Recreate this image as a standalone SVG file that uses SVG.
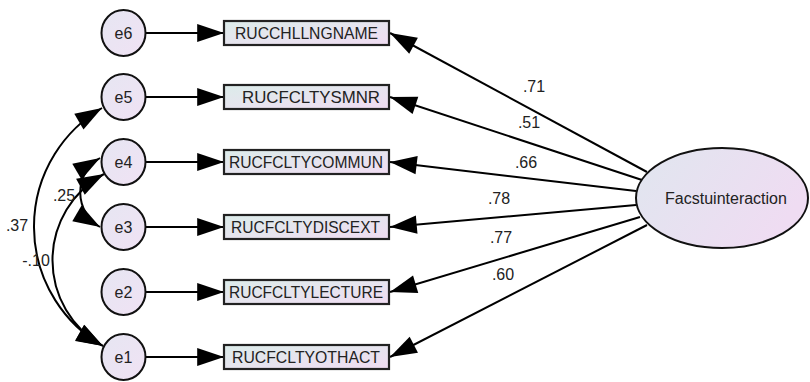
<svg xmlns="http://www.w3.org/2000/svg" width="810" height="382" viewBox="0 0 810 382">
  <defs>
    <linearGradient id="boxFill" x1="0" y1="0" x2="1" y2="1">
      <stop offset="0" stop-color="#dcecea"/>
      <stop offset="1" stop-color="#f0dcf2"/>
    </linearGradient>
    <linearGradient id="errFill" x1="0" y1="0" x2="1" y2="1">
      <stop offset="0" stop-color="#e6e6f2"/>
      <stop offset="1" stop-color="#f0e2f4"/>
    </linearGradient>
    <linearGradient id="latFill" x1="0" y1="0" x2="1" y2="0.4">
      <stop offset="0" stop-color="#e0e6ef"/>
      <stop offset="1" stop-color="#efdcf2"/>
    </linearGradient>
    <marker id="head" markerUnits="userSpaceOnUse" markerWidth="30" markerHeight="20" viewBox="-26 -9 28 18" refX="0" refY="0" orient="auto-start-reverse">
      <path d="M0,0 L-25,-8.5 L-25,8.5 Z" fill="#000"/>
    </marker>
  </defs>
  <style>
    .err { fill: url(#errFill); stroke: #111; stroke-width: 2; }
    .box { fill: url(#boxFill); stroke: #222; stroke-width: 2.2; }
    .lat { fill: url(#latFill); stroke: #111; stroke-width: 2; }
    .lbl { font-family: "Liberation Sans", Arial, sans-serif; font-size: 16px; fill: #222; text-anchor: middle; dominant-baseline: central; }
    .ind { font-size: 17px; }
    .num { font-family: "Liberation Sans", Arial, sans-serif; font-size: 16px; fill: #222; text-anchor: middle; dominant-baseline: central; }
    .conn path, .conn line { fill: none; stroke: #000; stroke-width: 2; }
  </style>

  <!-- connectors -->
  <g id="connectors" class="conn">
    <!-- error to indicator -->
    <line x1="146" y1="33" x2="224" y2="33" marker-end="url(#head)"/>
    <line x1="146" y1="97" x2="224" y2="97" marker-end="url(#head)"/>
    <line x1="146" y1="162" x2="224" y2="162" marker-end="url(#head)"/>
    <line x1="146" y1="227" x2="224" y2="227" marker-end="url(#head)"/>
    <line x1="146" y1="292" x2="224" y2="292" marker-end="url(#head)"/>
    <line x1="146" y1="357" x2="224" y2="357" marker-end="url(#head)"/>
    <!-- latent to indicators -->
    <line x1="647" y1="172" x2="390" y2="33" marker-end="url(#head)"/>
    <line x1="642" y1="180" x2="390" y2="97" marker-end="url(#head)"/>
    <line x1="636" y1="191" x2="390" y2="162" marker-end="url(#head)"/>
    <line x1="636" y1="205" x2="390" y2="227" marker-end="url(#head)"/>
    <line x1="640" y1="217" x2="390" y2="292" marker-end="url(#head)"/>
    <line x1="647" y1="225" x2="390" y2="357" marker-end="url(#head)"/>
    <!-- covariances -->
    <path d="M 102 108 A 137.6 137.6 0 0 0 103 346" marker-start="url(#head)" marker-end="url(#head)"/>
    <path d="M 104 174 A 98 98 0 0 0 103 346" marker-start="url(#head)" marker-end="url(#head)"/>
    <path d="M 100 158 A 40 40 0 0 0 100 227" marker-start="url(#head)" marker-end="url(#head)"/>
  </g>

  <!-- connector labels -->
  <g id="weights">
    <text class="num" x="534" y="86">.71</text>
    <text class="num" x="529" y="122">.51</text>
    <text class="num" x="526" y="162">.66</text>
    <text class="num" x="499" y="198">.78</text>
    <text class="num" x="501" y="237">.77</text>
    <text class="num" x="503" y="274">.60</text>
    <text class="num" x="17" y="225">.37</text>
    <text class="num" x="36" y="260">-.10</text>
    <text class="num" x="64" y="195">.25</text>
  </g>

  <!-- error terms -->
  <g id="e6"><ellipse class="err" cx="123.5" cy="33" rx="22" ry="23"/><text class="lbl" x="123.5" y="33">e6</text></g>
  <g id="e5"><ellipse class="err" cx="123.5" cy="97" rx="22" ry="23"/><text class="lbl" x="123.5" y="97">e5</text></g>
  <g id="e4"><ellipse class="err" cx="123.5" cy="162" rx="22" ry="23"/><text class="lbl" x="123.5" y="162">e4</text></g>
  <g id="e3"><ellipse class="err" cx="123.5" cy="227" rx="22" ry="23"/><text class="lbl" x="123.5" y="227">e3</text></g>
  <g id="e2"><ellipse class="err" cx="123.5" cy="292" rx="22" ry="23"/><text class="lbl" x="123.5" y="292">e2</text></g>
  <g id="e1"><ellipse class="err" cx="123.5" cy="357" rx="22" ry="23"/><text class="lbl" x="123.5" y="357">e1</text></g>

  <!-- observed indicators -->
  <g id="RUCCHLLNGNAME"><rect class="box" x="224" y="21" width="165" height="24"/><text class="lbl ind" x="306.5" y="33" textLength="143" lengthAdjust="spacingAndGlyphs">RUCCHLLNGNAME</text></g>
  <g id="RUCFCLTYSMNR"><rect class="box" x="224" y="85" width="165" height="24"/><text class="lbl ind" x="311" y="97" textLength="138" lengthAdjust="spacingAndGlyphs">RUCFCLTYSMNR</text></g>
  <g id="RUCFCLTYCOMMUN"><rect class="box" x="224" y="150" width="165" height="24"/><text class="lbl ind" x="306" y="162" textLength="154" lengthAdjust="spacingAndGlyphs">RUCFCLTYCOMMUN</text></g>
  <g id="RUCFCLTYDISCEXT"><rect class="box" x="224" y="215" width="165" height="24"/><text class="lbl ind" x="305.5" y="227" textLength="149" lengthAdjust="spacingAndGlyphs">RUCFCLTYDISCEXT</text></g>
  <g id="RUCFCLTYLECTURE"><rect class="box" x="224" y="280" width="165" height="24"/><text class="lbl ind" x="306" y="292" textLength="154" lengthAdjust="spacingAndGlyphs">RUCFCLTYLECTURE</text></g>
  <g id="RUCFCLTYOTHACT"><rect class="box" x="224" y="345" width="165" height="24"/><text class="lbl ind" x="306" y="357" textLength="148" lengthAdjust="spacingAndGlyphs">RUCFCLTYOTHACT</text></g>

  <!-- latent factor -->
  <g id="Facstuinteraction"><ellipse class="lat" cx="722" cy="198" rx="86" ry="50"/><text class="lbl" x="726" y="198">Facstuinteraction</text></g>
</svg>
